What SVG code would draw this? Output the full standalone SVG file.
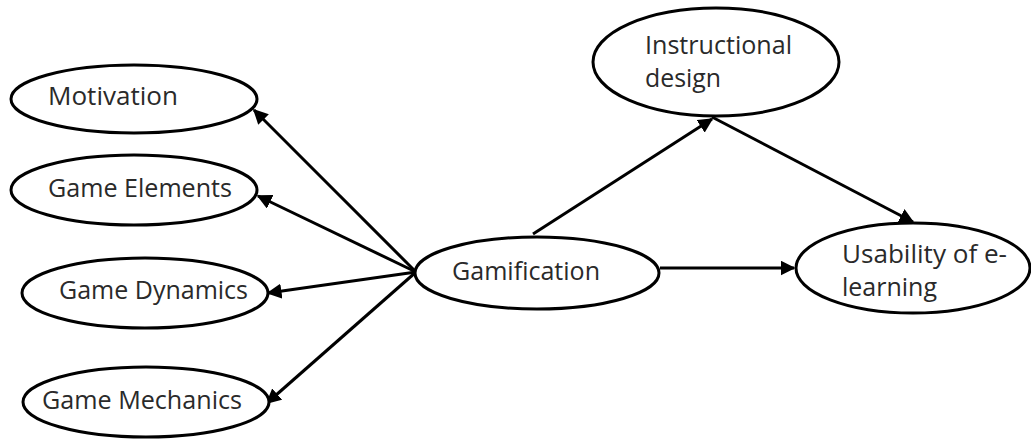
<svg xmlns="http://www.w3.org/2000/svg" width="1031" height="439" viewBox="0 0 1031 439">
  <style>
    .node ellipse { fill: #ffffff; stroke: #000000; stroke-width: 3; }
    .node text { font-family: "Open Sans", "Liberation Sans", sans-serif; font-size: 25px; fill: #2a2a2a; }
    .edges line { stroke: #000000; stroke-width: 3; marker-end: url(#arrow); }
  </style>
  <defs>
    <marker id="arrow" viewBox="0 0 10 10" refX="9" refY="5" markerWidth="5" markerHeight="5" orient="auto" markerUnits="strokeWidth">
      <path d="M0,0 L10,5 L0,10 z" fill="#000000"/>
    </marker>
  </defs>
  <rect width="1031" height="439" fill="#ffffff"/>

  <!-- connectors: Gamification fans out to the four factors on the left -->
  <g class="edges" id="connectors">
    <line x1="416" y1="272" x2="254" y2="110"/>
    <line x1="416" y1="272" x2="258" y2="196"/>
    <line x1="416" y1="272" x2="268" y2="293"/>
    <line x1="416" y1="272" x2="267" y2="403"/>
    <line x1="533" y1="234" x2="712" y2="119"/>
    <line x1="712" y1="117" x2="913" y2="222"/>
    <line x1="660" y1="268" x2="794" y2="268"/>
  </g>

  <g class="node" id="motivation">
    <ellipse cx="134" cy="99" rx="123" ry="34"/>
    <text x="48" y="105" textLength="130" lengthAdjust="spacingAndGlyphs">Motivation</text>
  </g>
  <g class="node" id="game-elements">
    <ellipse cx="134" cy="190" rx="123" ry="35"/>
    <text x="48" y="197" textLength="184" lengthAdjust="spacingAndGlyphs">Game Elements</text>
  </g>
  <g class="node" id="game-dynamics">
    <ellipse cx="145" cy="293" rx="123" ry="35"/>
    <text x="59" y="299" textLength="189" lengthAdjust="spacingAndGlyphs">Game Dynamics</text>
  </g>
  <g class="node" id="game-mechanics">
    <ellipse cx="146" cy="402" rx="123" ry="35"/>
    <text x="42" y="409" textLength="200" lengthAdjust="spacingAndGlyphs">Game Mechanics</text>
  </g>
  <g class="node" id="gamification">
    <ellipse cx="537" cy="273" rx="122" ry="36"/>
    <text x="452" y="280" textLength="148" lengthAdjust="spacingAndGlyphs">Gamification</text>
  </g>
  <g class="node" id="instructional-design">
    <ellipse cx="716" cy="62" rx="123" ry="54"/>
    <text x="645" y="54" textLength="147" lengthAdjust="spacingAndGlyphs">Instructional</text>
    <text x="645" y="87" textLength="76" lengthAdjust="spacingAndGlyphs">design</text>
  </g>
  <g class="node" id="usability">
    <ellipse cx="913" cy="268" rx="117" ry="45"/>
    <text x="842" y="263" textLength="165" lengthAdjust="spacingAndGlyphs">Usability of e-</text>
    <text x="842" y="296" textLength="95" lengthAdjust="spacingAndGlyphs">learning</text>
  </g>
</svg>
